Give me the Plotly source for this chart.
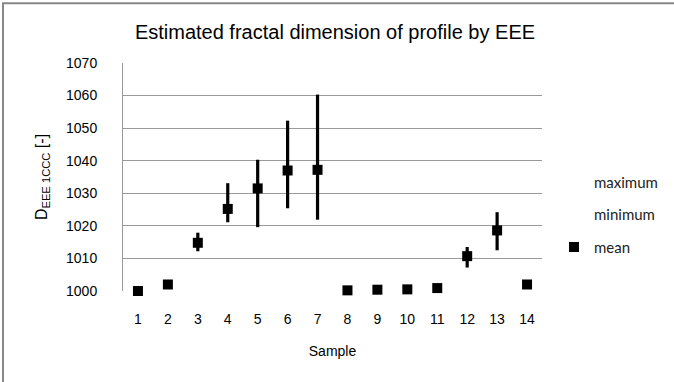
import plotly.graph_objects as go

# Estimated fractal dimension per sample (EEE method)
samples = [str(i) for i in range(1, 15)]
mean_vals = [1000.0, 1002.0, 1014.8, 1025.2, 1031.5, 1037.0, 1037.2,
             1000.2, 1000.4, 1000.5, 1000.9, 1010.7, 1018.6, 1002.0]
max_vals = [1000.0, 1002.0, 1017.9, 1033.1, 1040.3, 1052.3, 1060.3,
            1000.2, 1000.4, 1000.5, 1000.9, 1013.5, 1024.2, 1002.9]
min_vals = [1000.0, 1002.0, 1012.2, 1021.1, 1019.6, 1025.4, 1021.9,
            1000.2, 1000.4, 1000.5, 1000.9, 1007.2, 1012.5, 1001.7]
y_ticks = [1000, 1010, 1020, 1030, 1040, 1050, 1060, 1070]

err_plus = [hi - m for hi, m in zip(max_vals, mean_vals)]
err_minus = [m - lo for m, lo in zip(mean_vals, min_vals)]

fig = go.Figure()

# High / low series carry no marker of their own
fig.add_trace(go.Scatter(x=samples, y=max_vals, name="maximum", mode="markers",
                         marker=dict(color="rgba(0,0,0,0)", size=1), legendgroup="a",
                         hoverinfo="skip"))
fig.add_trace(go.Scatter(x=samples, y=min_vals, name="minimum", mode="markers",
                         marker=dict(color="rgba(0,0,0,0)", size=1), legendgroup="b",
                         hoverinfo="skip"))
fig.add_trace(go.Scatter(x=samples, y=mean_vals, name="mean", mode="markers",
                         marker=dict(symbol="square", size=10, color="black"),
                         error_y=dict(type="data", array=err_plus,
                                      arrayminus=err_minus, symmetric=False,
                                      color="black", thickness=3.2, width=0),
                         cliponaxis=False, legendgroup="c"))

l, r, t, b = 123, 132, 63, 90.5
W, H = 674, 382
pw, ph = W - l - r, H - t - b

fig.update_layout(
    width=W, height=H,
    margin=dict(l=l, r=r, t=t, b=b, autoexpand=False),
    paper_bgcolor="white", plot_bgcolor="white",
    font=dict(family="Liberation Sans", color="black", size=14),
    title=dict(text="Estimated fractal dimension of profile by EEE",
               x=0.497, xanchor="center", y=1 - 32 / H, yanchor="middle",
               font=dict(size=20)),
    showlegend=True,
    legend=dict(x=1 + (554 - (W - r)) / pw, xanchor="left",
                y=(H - b - 166) / ph, yanchor="top",
                font=dict(family="Lato", size=15, color="#222"),
                tracegroupgap=10, itemwidth=30, bgcolor="rgba(0,0,0,0)"),
    xaxis=dict(type="category", range=[-0.5, 13.5], showgrid=False,
               showline=False, ticks="", tickfont=dict(size=14),
               ticklabelstandoff=18,
               title=dict(text="Sample", font=dict(size=14), standoff=20)),
    yaxis=dict(range=[1000, 1070], tickvals=y_ticks, showgrid=True,
               gridcolor="#9a9a9a", gridwidth=1, showline=True,
               linecolor="#9a9a9a", linewidth=1, ticks="", zeroline=False,
               tickfont=dict(size=14), ticklabelstandoff=22,
               title=dict(text="D<sub>EEE 1CCC</sub> [-]",
                          font=dict(size=16), standoff=14)),
    shapes=[dict(type="rect", xref="paper", yref="paper",
                 x0=(3 - l) / pw, x1=2, y0=-1, y1=(H - b - 3) / ph,
                 line=dict(color="#888888", width=2), layer="below")],
)

fig.write_html("out.html")
